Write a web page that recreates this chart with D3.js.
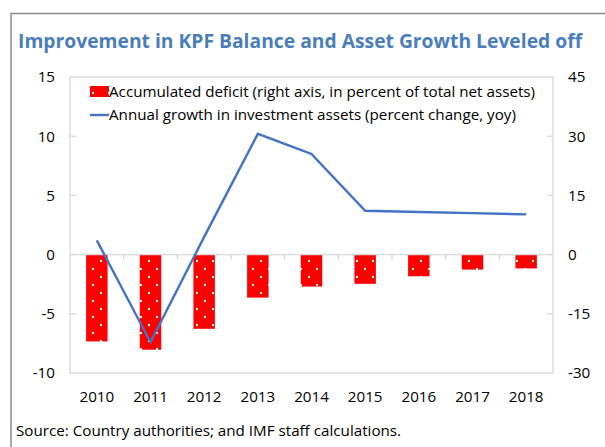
<!DOCTYPE html>
<html>
<head>
<meta charset="utf-8">
<script src="https://cdn.jsdelivr.net/npm/d3@7"></script>
<style>
  body { margin: 0; background: #fff; }
  svg { display: block; font-family: "Open Sans", "Noto Sans", sans-serif; }
</style>
</head>
<body>
<div id="chart"></div>
<script>
// data
const years = ["2010", "2011", "2012", "2013", "2014", "2015", "2016", "2017", "2018"];
const deficit = [-22.0, -24.1, -18.8, -10.9, -8.1, -7.4, -5.5, -3.8, -3.5];   // right axis
const growth = [1.2, -7.4, 1.5, 10.2, 8.5, 3.7, 3.6, 3.5, 3.4];              // left axis
const leftTicks = [15, 10, 5, 0, -5, -10];
const rightTicks = [45, 30, 15, 0, -15, -30];

const width = 605, height = 447;
const margin = { top: 77, right: 52, bottom: 74, left: 70 };

const svg = d3.select("#chart")
    .append("svg")
    .attr("width", width)
    .attr("height", height);

// dotted fill for the bars
const pat = svg.append("defs").append("pattern")
    .attr("id", "dots")
    .attr("patternUnits", "userSpaceOnUse")
    .attr("width", 16)
    .attr("height", 16);
pat.append("rect").attr("width", 16).attr("height", 16).attr("fill", "#ff0000");
pat.append("rect").attr("x", 4).attr("y", 4).attr("width", 2).attr("height", 2).attr("fill", "#fff");
pat.append("rect").attr("x", 12).attr("y", 12).attr("width", 2).attr("height", 2).attr("fill", "#fff");

// outer frame (top and left)
svg.append("path")
    .attr("d", `M11,${height} V13.5 H${width}`)
    .attr("fill", "none")
    .attr("stroke", "#8c8c8c")
    .attr("stroke-width", 1.5);

svg.append("text")
    .attr("x", 18)
    .attr("y", 48)
    .text("Improvement in KPF Balance and Asset Growth Leveled off")
    .style("font-size", "19.3px")
    .style("font-weight", "bold")
    .style("fill", "#4a7ebb");

const x = d3.scaleBand()
    .domain(years)
    .range([margin.left, width - margin.right])
    .paddingInner(0.6)
    .paddingOuter(0.3);

const band = d3.scaleBand().domain(years).range([margin.left, width - margin.right]);

const yL = d3.scaleLinear().domain([-10, 15]).range([height - margin.bottom, margin.top]);
const yR = d3.scaleLinear().domain([-30, 45]).range([height - margin.bottom, margin.top]);

const x0 = margin.left, x1 = width - margin.right;
const gridColor = "#d9d9d9";

// plot area box
svg.append("rect")
    .attr("x", x0)
    .attr("y", yL(15))
    .attr("width", x1 - x0)
    .attr("height", yL(-10) - yL(15))
    .attr("fill", "none")
    .attr("stroke", gridColor)
    .attr("stroke-width", 1.3);

// bars
svg.selectAll(".bar")
    .data(years)
    .join("rect")
    .attr("class", "bar")
    .attr("x", d => x(d))
    .attr("width", x.bandwidth())
    .attr("y", yR(0))
    .attr("height", (d, i) => yR(deficit[i]) - yR(0))
    .attr("fill", "url(#dots)");

// zero line with category ticks
svg.append("line")
    .attr("x1", x0).attr("x2", x1)
    .attr("y1", yL(0)).attr("y2", yL(0))
    .attr("stroke", gridColor)
    .attr("stroke-width", 1.3);

svg.selectAll(".xtick")
    .data(years.slice(1))
    .join("line")
    .attr("x1", d => band(d)).attr("x2", d => band(d))
    .attr("y1", yL(0)).attr("y2", yL(0) + 5)
    .attr("stroke", gridColor)
    .attr("stroke-width", 1.3);

// inward ticks on both y axes
svg.selectAll(".ltick")
    .data(leftTicks.slice(1, -1))
    .join("line")
    .attr("x1", x0).attr("x2", x0 + 6)
    .attr("y1", d => yL(d)).attr("y2", d => yL(d))
    .attr("stroke", gridColor)
    .attr("stroke-width", 1.3);

svg.selectAll(".rtick")
    .data(rightTicks.slice(1, -1))
    .join("line")
    .attr("x1", x1 - 6).attr("x2", x1)
    .attr("y1", d => yR(d)).attr("y2", d => yR(d))
    .attr("stroke", gridColor)
    .attr("stroke-width", 1.3);

// growth line
svg.append("path")
    .datum(growth)
    .attr("d", d3.line()
        .x((d, i) => band(years[i]) + band.bandwidth() / 2)
        .y(d => yL(d)))
    .attr("fill", "none")
    .attr("stroke", "#4472c4")
    .attr("stroke-width", 2.4);

// tick labels
const labelStyle = sel => sel.style("font-size", "15.2px").style("fill", "#000");

svg.selectAll(".llab")
    .data(leftTicks)
    .join("text")
    .attr("x", 55)
    .attr("y", d => yL(d))
    .attr("dy", "0.35em")
    .attr("text-anchor", "end")
    .text(d => d)
    .call(labelStyle);

svg.selectAll(".rlab")
    .data(rightTicks)
    .join("text")
    .attr("x", 568)
    .attr("y", d => yR(d))
    .attr("dy", "0.35em")
    .attr("text-anchor", "start")
    .text(d => d)
    .call(labelStyle);

svg.selectAll(".xlab")
    .data(years)
    .join("text")
    .attr("x", d => band(d) + band.bandwidth() / 2)
    .attr("y", 402)
    .attr("text-anchor", "middle")
    .text(d => d)
    .call(labelStyle);

// legend
const legend = svg.append("g");
legend.append("rect")
    .attr("x", 90).attr("y", 86)
    .attr("width", 19).attr("height", 11)
    .attr("fill", "url(#dots)");
legend.append("text")
    .attr("x", 109).attr("y", 97)
    .text("Accumulated deficit (right axis, in percent of total net assets)")
    .call(labelStyle);
legend.append("line")
    .attr("x1", 90).attr("x2", 109)
    .attr("y1", 115).attr("y2", 115)
    .attr("stroke", "#4472c4")
    .attr("stroke-width", 2.4);
legend.append("text")
    .attr("x", 109).attr("y", 120)
    .text("Annual growth in investment assets (percent change, yoy)")
    .call(labelStyle);

svg.append("text")
    .attr("x", 16)
    .attr("y", 436)
    .text("Source: Country authorities; and IMF staff calculations.")
    .call(labelStyle);
</script>
</body>
</html>
